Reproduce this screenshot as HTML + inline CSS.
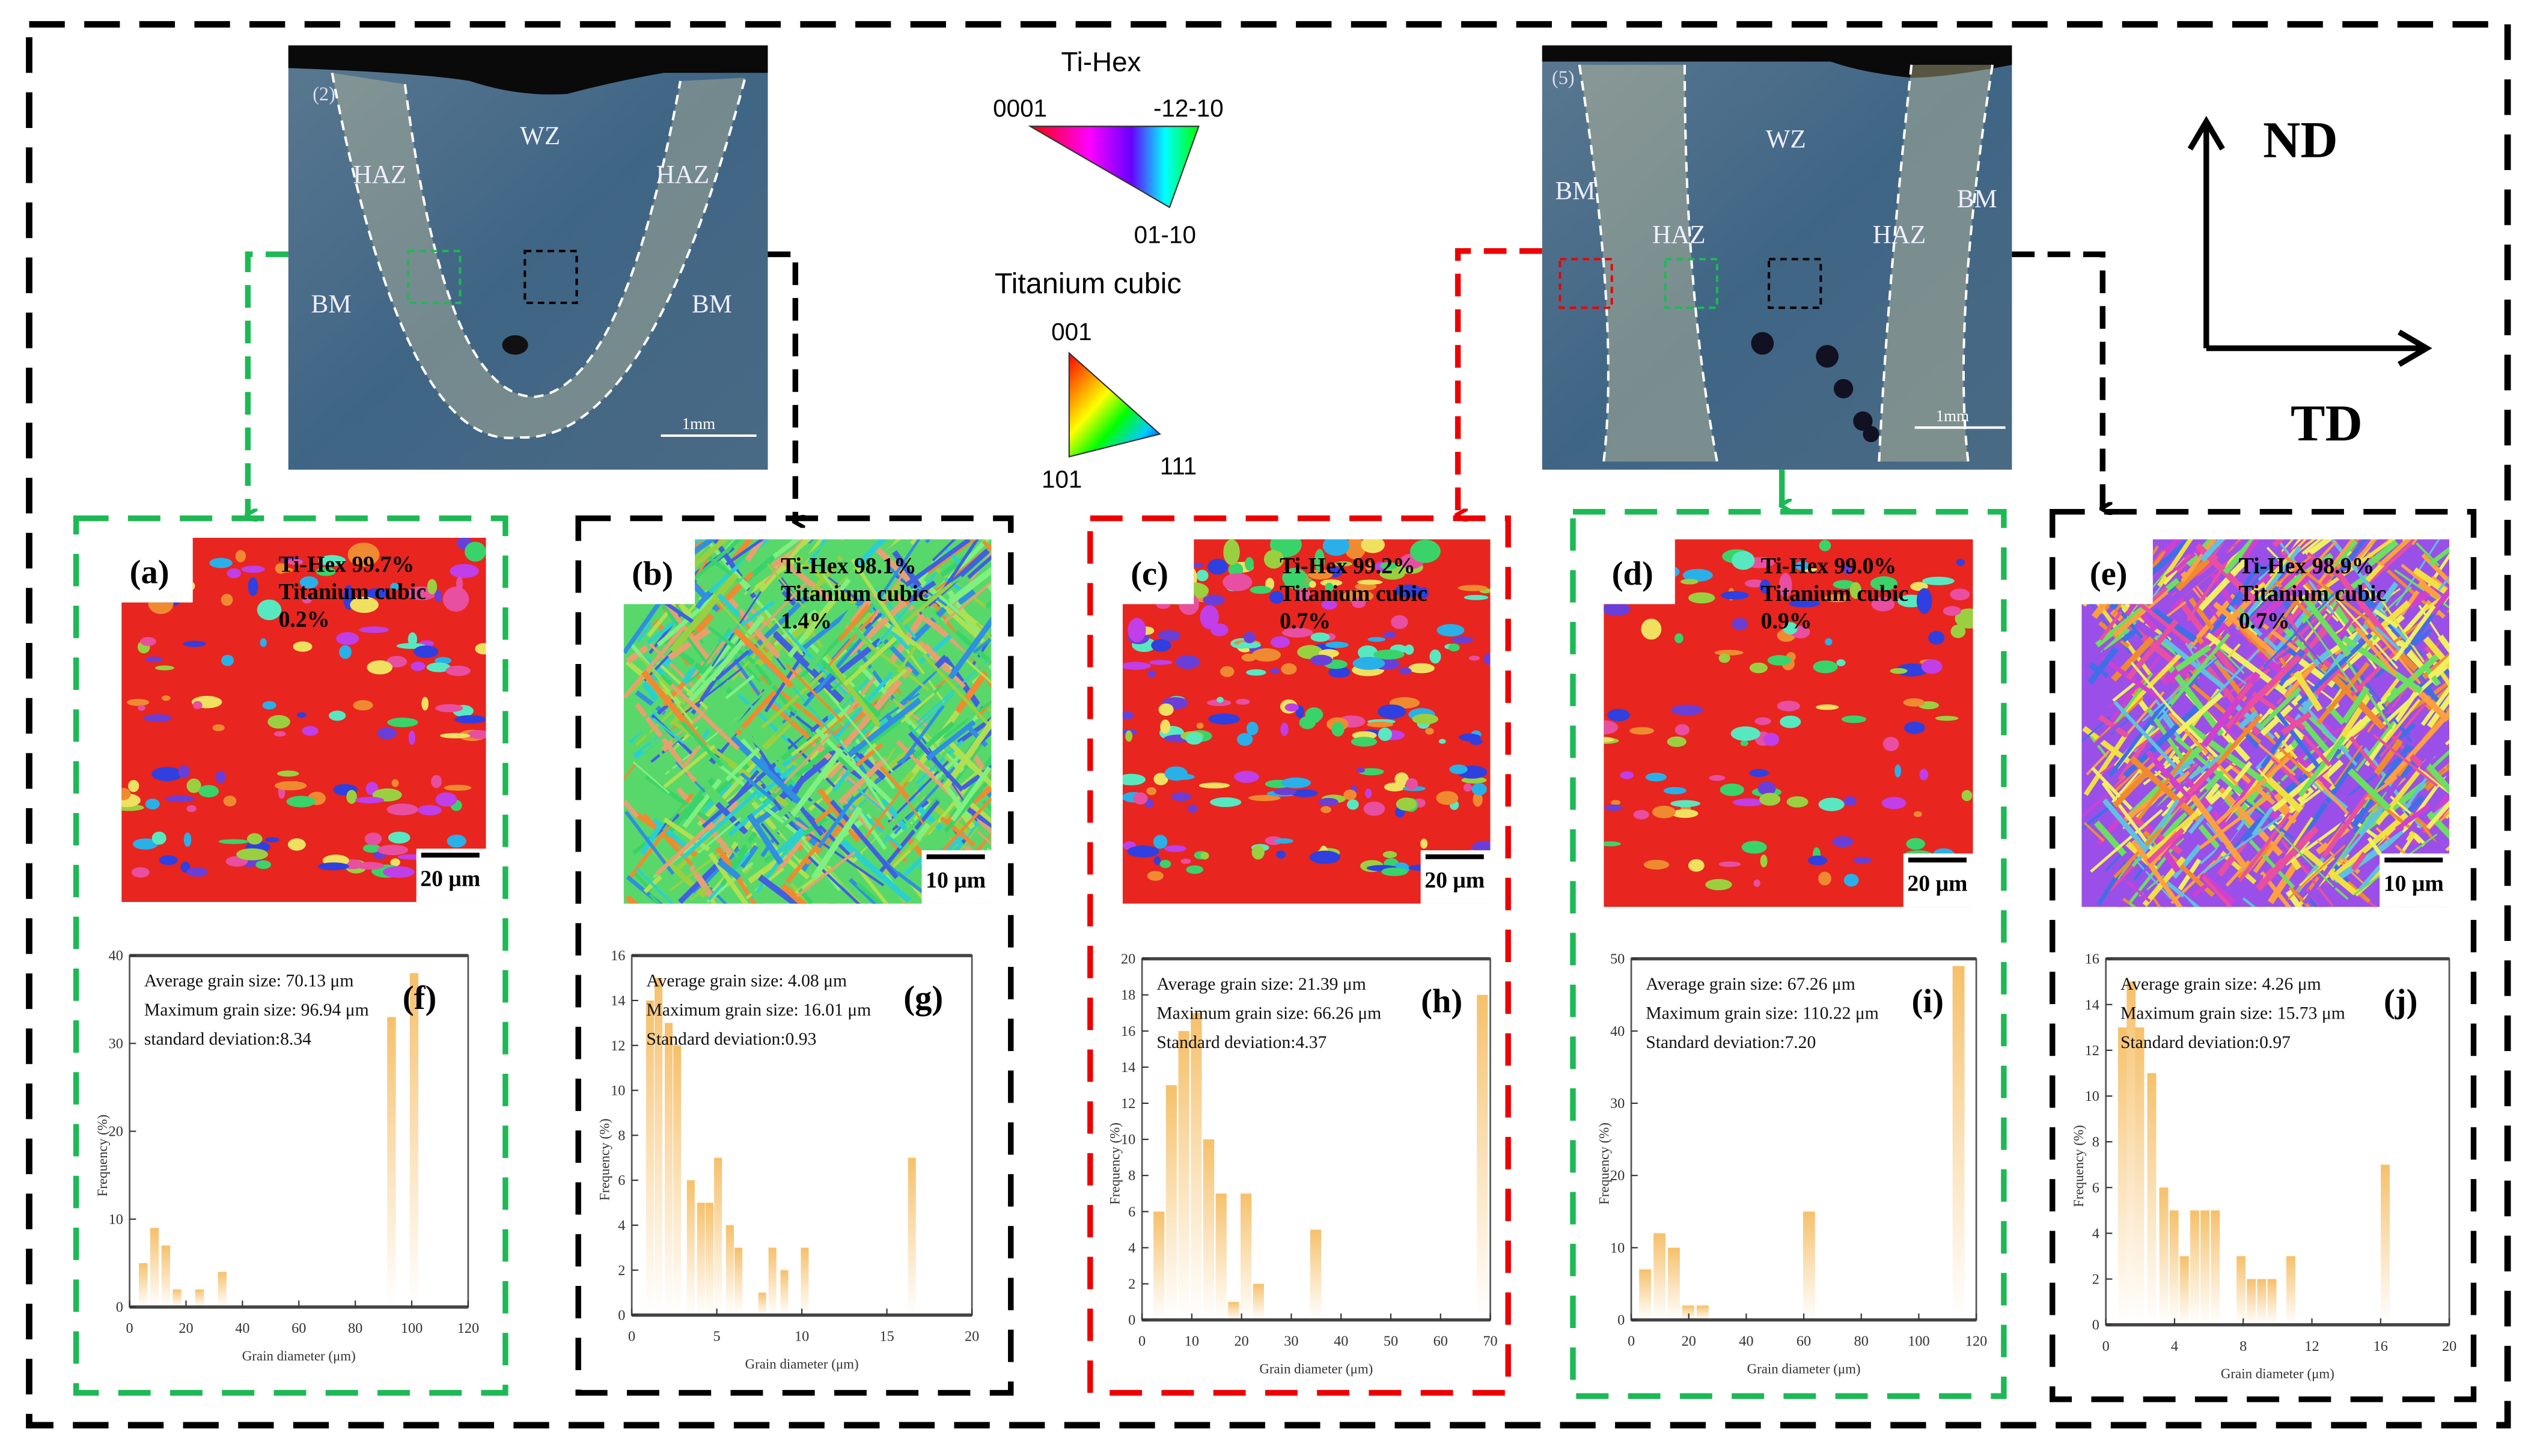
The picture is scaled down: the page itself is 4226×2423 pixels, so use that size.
<!DOCTYPE html>
<html><head><meta charset="utf-8"><style>
html,body{margin:0;padding:0;background:#fff;}
svg{display:block;}
text{font-family:"Liberation Serif",serif;}
.sans{font-family:"Liberation Sans",sans-serif;}
</style></head><body>
<svg id="fig" width="4226" height="2423" viewBox="0 0 1568 899" xmlns="http://www.w3.org/2000/svg">
<defs>
<linearGradient id="barg" x1="0" y1="0" x2="0" y2="1"><stop offset="0" stop-color="#f6c06a"/><stop offset="1" stop-color="#fff" stop-opacity="0.9"/></linearGradient>
<linearGradient id="micro" x1="0" y1="0" x2="1" y2="1"><stop offset="0" stop-color="#5a7890"/><stop offset="0.5" stop-color="#3f6585"/><stop offset="1" stop-color="#4a6a84"/></linearGradient>
<linearGradient id="hexg" x1="0" y1="0" x2="1" y2="0"><stop offset="0" stop-color="#f00"/><stop offset="0.35" stop-color="#f0f"/><stop offset="0.6" stop-color="#60f"/><stop offset="0.8" stop-color="#0ff"/><stop offset="1" stop-color="#0f0"/></linearGradient>
<linearGradient id="cubg" x1="0" y1="0" x2="1" y2="1"><stop offset="0" stop-color="#f00"/><stop offset="0.4" stop-color="#ff0"/><stop offset="0.6" stop-color="#0f0"/><stop offset="0.8" stop-color="#0cf"/><stop offset="1" stop-color="#00f"/></linearGradient>
<marker id="ag" markerWidth="8" markerHeight="8" refX="4" refY="6" orient="auto-start-reverse" markerUnits="userSpaceOnUse"><path d="M0,0 L4,7 L8,0" fill="none" stroke="#1db954" stroke-width="2.5"/></marker>
<marker id="ak" markerWidth="8" markerHeight="8" refX="4" refY="6" orient="auto-start-reverse" markerUnits="userSpaceOnUse"><path d="M0,0 L4,7 L8,0" fill="none" stroke="#000" stroke-width="2.5"/></marker>
<marker id="ar" markerWidth="8" markerHeight="8" refX="4" refY="6" orient="auto-start-reverse" markerUnits="userSpaceOnUse"><path d="M0,0 L4,7 L8,0" fill="none" stroke="#e00" stroke-width="2.5"/></marker>
</defs>

<rect x="18" y="15" width="1530" height="865" fill="none" stroke="#000" stroke-width="4" stroke-dasharray="22,12"/>

<rect x="47" y="320" width="265" height="540" fill="none" stroke="#1db954" stroke-width="3.5" stroke-dasharray="20,12"/>
<rect x="357" y="320" width="267" height="540" fill="none" stroke="#000" stroke-width="3.5" stroke-dasharray="20,12"/>
<rect x="673" y="320" width="258" height="540" fill="none" stroke="#e00" stroke-width="3.5" stroke-dasharray="20,12"/>
<rect x="971" y="316" width="266" height="546" fill="none" stroke="#1db954" stroke-width="3.5" stroke-dasharray="20,12"/>
<rect x="1267" y="316" width="260" height="548" fill="none" stroke="#000" stroke-width="3.5" stroke-dasharray="20,12"/>

<path d="M178,157 H153 V318" fill="none" stroke="#1db954" stroke-width="3.5" stroke-dasharray="14,8" marker-end="url(#ag)"/>
<path d="M474,157 H491 V322" fill="none" stroke="#000" stroke-width="3.5" stroke-dasharray="14,8" marker-end="url(#ak)"/>
<path d="M952,155 H900 V318" fill="none" stroke="#e00" stroke-width="3.5" stroke-dasharray="14,8" marker-end="url(#ar)"/>
<path d="M1100,290 V312" fill="none" stroke="#1db954" stroke-width="3.5" marker-end="url(#ag)"/>
<path d="M1242,157 H1298 V314" fill="none" stroke="#000" stroke-width="3.5" stroke-dasharray="14,8" marker-end="url(#ak)"/>

<g>
<rect x="178" y="28" width="296" height="262" fill="url(#micro)"/>
<path d="M178,28 H474 V45 H410 Q380,50 350,58 Q320,60 290,50 Q260,45 178,42 Z" fill="#0a0a0a"/>
<path d="M205,45 Q250,280 320,270 Q400,275 460,48 L420,50 Q385,240 330,245 Q275,245 250,52 Z" fill="#d8cfa0" opacity="0.35"/>
<path d="M205,45 Q250,280 320,270 Q400,275 460,48" fill="none" stroke="#fff" stroke-width="1.5" stroke-dasharray="6,4"/>
<path d="M250,52 Q275,245 330,245 Q385,240 420,50" fill="none" stroke="#fff" stroke-width="1.5" stroke-dasharray="6,4"/>
<rect x="252" y="155" width="32" height="32" fill="none" stroke="#1db954" stroke-width="1.5" stroke-dasharray="4,3"/>
<rect x="324" y="155" width="32" height="32" fill="none" stroke="#000" stroke-width="1.5" stroke-dasharray="4,3"/>
<ellipse cx="318" cy="213" rx="8" ry="6" fill="#111"/>
<text x="193" y="62" fill="#dde" font-size="12">(2)</text>
<text x="321" y="89" fill="#eef" font-size="16">WZ</text>
<text x="218" y="113" fill="#eef" font-size="16">HAZ</text>
<text x="405" y="113" fill="#eef" font-size="16">HAZ</text>
<text x="192" y="193" fill="#eef" font-size="16">BM</text>
<text x="427" y="193" fill="#eef" font-size="16">BM</text>
<text x="421" y="265" fill="#fff" font-size="10">1mm</text>
<line x1="408" y1="269" x2="467" y2="269" stroke="#fff" stroke-width="1.5"/>
</g>

<g>
<rect x="952" y="28" width="290" height="262" fill="url(#micro)"/>
<path d="M952,28 H1242 V40 Q1200,48 1180,48 Q1150,45 1130,38 L952,38 Z" fill="#0a0a0a"/>
<path d="M975,40 Q1000,200 990,285 L1060,285 Q1040,180 1040,40 Z" fill="#d8cfa0" opacity="0.38"/>
<path d="M1230,40 Q1205,200 1215,285 L1160,285 Q1165,180 1180,40 Z" fill="#d8cfa0" opacity="0.38"/>
<path d="M975,40 Q1000,200 990,285" fill="none" stroke="#fff" stroke-width="1.5" stroke-dasharray="6,4"/>
<path d="M1040,40 Q1040,180 1060,285" fill="none" stroke="#fff" stroke-width="1.5" stroke-dasharray="6,4"/>
<path d="M1180,40 Q1165,180 1160,285" fill="none" stroke="#fff" stroke-width="1.5" stroke-dasharray="6,4"/>
<path d="M1230,40 Q1205,200 1215,285" fill="none" stroke="#fff" stroke-width="1.5" stroke-dasharray="6,4"/>
<rect x="963" y="160" width="32" height="30" fill="none" stroke="#e00" stroke-width="1.5" stroke-dasharray="4,3"/>
<rect x="1028" y="160" width="32" height="30" fill="none" stroke="#1db954" stroke-width="1.5" stroke-dasharray="4,3"/>
<rect x="1092" y="160" width="32" height="30" fill="none" stroke="#000" stroke-width="1.5" stroke-dasharray="4,3"/>
<circle cx="1088" cy="212" r="7" fill="#112"/><circle cx="1128" cy="220" r="7" fill="#112"/><circle cx="1138" cy="240" r="6" fill="#112"/><circle cx="1150" cy="260" r="6" fill="#112"/><circle cx="1155" cy="268" r="5" fill="#112"/>
<text x="958" y="52" fill="#dde" font-size="12">(5)</text>
<text x="1090" y="91" fill="#eef" font-size="16">WZ</text>
<text x="960" y="123" fill="#eef" font-size="16">BM</text>
<text x="1020" y="150" fill="#eef" font-size="16">HAZ</text>
<text x="1156" y="150" fill="#eef" font-size="16">HAZ</text>
<text x="1208" y="128" fill="#eef" font-size="16">BM</text>
<text x="1195" y="260" fill="#fff" font-size="10">1mm</text>
<line x1="1182" y1="264" x2="1238" y2="264" stroke="#fff" stroke-width="1.5"/>
</g>

<g>
<text x="655" y="44" font-size="17" class="sans">Ti-Hex</text>
<text x="613" y="72" font-size="15" class="sans">0001</text>
<text x="712" y="72" font-size="15" class="sans">-12-10</text>
<path d="M636,78 L740,78 L722,128 Z" fill="url(#hexg)" stroke="#333" stroke-width="0.8"/>
<text x="700" y="150" font-size="15" class="sans">01-10</text>
<text x="614" y="181" font-size="18" class="sans">Titanium cubic</text>
<text x="649" y="210" font-size="15" class="sans">001</text>
<path d="M660,218 L660,282 L716,268 Z" fill="url(#cubg)" stroke="#333" stroke-width="0.8"/>
<text x="643" y="301" font-size="15" class="sans">101</text>
<text x="716" y="293" font-size="15" class="sans">111</text>
</g>

<g>
<path d="M1362,215 V78 M1352,92 L1362,75 L1372,92" fill="none" stroke="#000" stroke-width="3.5"/>
<path d="M1362,215 H1495 M1481,205 L1498,215 L1481,225" fill="none" stroke="#000" stroke-width="3.5"/>
<text x="1397" y="97" font-size="32" font-weight="bold">ND</text>
<text x="1414" y="272" font-size="32" font-weight="bold">TD</text>
</g>

<g id="maps"></g>
<g id="hists"></g>
</svg>
<script>
const fX=[5,9,13,17,25,33,93,101];
const fY=[5,9,7,2,2,4,33,38];
const gX=[1.1,1.6,2.2,2.7,3.5,4.1,4.6,5.1,5.8,6.3,7.7,8.3,9.0,10.2,16.5];
const gY=[14,15,13,12,6,5,5,7,4,3,1,3,2,3,7];
const hX=[3.5,6,8.5,11,13.5,16,18.5,21,23.5,35,68.5];
const hY=[6,13,16,17,10,7,1,7,2,5,18];
const iX=[5,10,15,20,25,62,114];
const iY=[7,12,10,2,2,15,49];
const jX=[1,1.5,2,2.7,3.4,4,4.6,5.2,5.8,6.4,7.9,8.5,9.1,9.7,10.8,16.3];
const jY=[13,15,13,11,6,5,3,5,5,5,3,2,2,2,3,7];
const fXt=[0,20,40,60,80,100,120], fYt=[0,10,20,30,40];
const gXt=[0,5,10,15,20], gYt=[0,2,4,6,8,10,12,14,16];
const hXt=[0,10,20,30,40,50,60,70], hYt=[0,2,4,6,8,10,12,14,16,18,20];
const iXt=[0,20,40,60,80,100,120], iYt=[0,10,20,30,40,50];
const jXt=[0,4,8,12,16,20], jYt=[0,2,4,6,8,10,12,14,16];
const fTxt=["Average grain size: 70.13 μm","Maximum grain size: 96.94 μm","standard deviation:8.34"];
const gTxt=["Average grain size: 4.08 μm","Maximum grain size: 16.01 μm","Standard deviation:0.93"];
const hTxt=["Average grain size: 21.39 μm","Maximum grain size: 66.26 μm","Standard deviation:4.37"];
const iTxt=["Average grain size: 67.26 μm","Maximum grain size: 110.22 μm","Standard deviation:7.20"];
const jTxt=["Average grain size: 4.26 μm","Maximum grain size: 15.73 μm","Standard deviation:0.97"];

const NS="http://www.w3.org/2000/svg";
function mk(tag,attrs,parent){const e=document.createElementNS(NS,tag);for(const k in attrs)e.setAttribute(k,attrs[k]);parent.appendChild(e);return e;}
const H=document.getElementById('hists');

function hist(id,box,xs,ys,xt,yt,bw,txt,label){
  const [x0,y0,x1,y1]=box;
  const g=mk('g',{},H);
  
  
  const xmax=xt[xt.length-1], ymax=yt[yt.length-1];
  const sx=v=>x0+(v/xmax)*(x1-x0);
  const sy=v=>y1-(v/ymax)*(y1-y0);
  for(let k=0;k<xs.length;k++){
    const r=mk('rect',{x:sx(xs[k]-bw/2),y:sy(ys[k]),width:Math.max(1,sx(bw)-x0-0.6),height:y1-sy(ys[k]),fill:'url(#barg)'},g);
    
    
  }
  mk('rect',{x:x0,y:y0,width:x1-x0,height:y1-y0,fill:'none',stroke:'#555','stroke-width':1},g);
  mk('line',{x1:x0,y1:y0,x2:x1,y2:y0,stroke:'#444','stroke-width':2},g);
  mk('line',{x1:x0,y1:y1,x2:x1,y2:y1,stroke:'#444','stroke-width':2},g);
  xt.forEach(v=>{mk('line',{x1:sx(v),y1:y1,x2:sx(v),y2:y1-4,stroke:'#333','stroke-width':0.8},g);
    const t=mk('text',{x:sx(v),y:y1+16,'font-size':9,'text-anchor':'middle',fill:'#333'},g);t.textContent=v;
    });
  yt.forEach(v=>{mk('line',{x1:x0,y1:sy(v),x2:x0+4,y2:sy(v),stroke:'#333','stroke-width':0.8},g);
    const t=mk('text',{x:x0-4,y:sy(v)+3,'font-size':9,'text-anchor':'end',fill:'#333'},g);t.textContent=v;
    });
  const xl=mk('text',{x:(x0+x1)/2,y:y1+33,'font-size':8.5,'text-anchor':'middle',fill:'#333'},g);xl.textContent='Grain diameter (μm)';
  
  const yl=mk('text',{x:0,y:0,'font-size':8.5,'text-anchor':'middle',fill:'#333',transform:`translate(${x0-14},${(y0+y1)/2+15}) rotate(-90)`},g);yl.textContent='Frequency (%)';
  
  txt.forEach((s,k)=>{const t=mk('text',{x:x0+9,y:y0+19+k*18,'font-size':11,fill:'#111'},g);t.textContent=s;
    });
  const L=mk('text',{x:x1-30,y:y0+33,'font-size':21,'font-weight':'bold','text-anchor':'middle'},g);L.textContent=label;
  
}
hist('f',[80,590,289,807],fX,fY,fXt,fYt,3.4,fTxt,'(f)');
hist('g',[390,590,600,812],gX,gY,gXt,gYt,0.52,gTxt,'(g)');
hist('h',[705,592,920,815],hX,hY,hXt,hYt,2.4,hTxt,'(h)');
hist('i',[1007,592,1220,815],iX,iY,iXt,iYt,4.5,iTxt,'(i)');
hist('j',[1300,592,1512,818],jX,jY,jXt,jYt,0.58,jTxt,'(j)');

let seed=7;function rnd(){seed=(seed*16807)%2147483647;return seed/2147483647;}
const M=document.getElementById('maps');
function map(id,x,y,w,h,type,label,l1,l2,l3,scale,notchW,notchH,n){
  const g=mk('g',{},M);
  
  
  const cp=mk('clipPath',{id:'cp'+id},g);
  mk('path',{d:`M${x+notchW},${y} H${x+w} V${y+h} H${x} V${y+notchH} H${x+notchW} Z`},cp);
  const inner=mk('g',{'clip-path':`url(#cp${id})`},g);
  if(type==='red'){
    mk('rect',{x:x,y:y,width:w,height:h,fill:'#e8251f'},inner);
    const cols=['#2f3fe0','#3ad36a','#c03fe8','#6a3fd8','#2ab0e8','#f08a30','#e84fa0','#f0e060','#58e8c0','#9ad040'];
    for(let k=0;k<n;k++){
      const band=Math.floor(rnd()*5);const cy=y+h*(0.12+band*0.19)+(rnd()-0.5)*h*0.12;
      mk('ellipse',{cx:x+rnd()*w,cy:cy,rx:2+rnd()*8,ry:1.5+rnd()*3,fill:cols[Math.floor(rnd()*cols.length)]},inner);
    }
    for(let k=0;k<n/8;k++){mk('ellipse',{cx:x+rnd()*w,cy:y+rnd()*h*0.25,rx:3+rnd()*7,ry:3+rnd()*5,fill:cols[Math.floor(rnd()*cols.length)]},inner);}
  } else {
    const cols=type==='multi1'?['#58d86a','#3ad36a','#2f8fe0','#f08a30','#9ad040','#2ad0d0','#e8a070','#4060e0','#b0e050','#80f080']
                              :['#9a4fe8','#f0e040','#e84fa0','#f08a30','#3f6fe8','#6adf60','#d040d0','#ffa040','#60c0e0','#f0f060'];
    mk('rect',{x:x,y:y,width:w,height:h,fill:cols[0]},inner);
    for(let k=0;k<650;k++){
      const cx=x+rnd()*w, cy=y+rnd()*h, L=10+rnd()*55, a=(rnd()<0.6?-0.8:0.8)+(rnd()-0.5)*0.4;
      mk('line',{x1:cx,y1:cy,x2:cx+Math.cos(a)*L,y2:cy+Math.sin(a)*L,stroke:cols[Math.floor(rnd()*cols.length)],'stroke-width':1+rnd()*3},inner);
    }
  }
  const t0=mk('text',{x:x+5,y:y+28,'font-size':21,'font-weight':'bold'},g);t0.textContent=label;
  [l1,l2,l3].forEach((s,k)=>{const t=mk('text',{x:x+97,y:y+21+k*17,'font-size':14,'font-weight':'bold'},g);t.textContent=s;});
  mk('rect',{x:x+w-43,y:y+h-33,width:43,height:33,fill:'#fff'},g);
  mk('line',{x1:x+w-40,y1:y+h-29,x2:x+w-4,y2:y+h-29,stroke:'#000','stroke-width':3},g);
  const sb=mk('text',{x:x+w-22,y:y+h-10,'font-size':14,'font-weight':'bold','text-anchor':'middle'},g);sb.textContent=scale;
}
map('a',75,332,225,225,'red','(a)','Ti-Hex 99.7%','Titanium cubic','0.2%','20 μm',44,40,130);
map('b',385,333,227,225,'multi1','(b)','Ti-Hex 98.1%','Titanium cubic','1.4%','10 μm',44,40,0);
map('c',693,333,227,225,'red','(c)','Ti-Hex 99.2%','Titanium cubic','0.7%','20 μm',44,40,220);
map('d',990,333,228,227,'red','(d)','Ti-Hex 99.0%','Titanium cubic','0.9%','20 μm',44,40,110);
map('e',1285,333,227,227,'multi2','(e)','Ti-Hex 98.9%','Titanium cubic','0.7%','10 μm',44,40,0);
</script>
</body></html>
